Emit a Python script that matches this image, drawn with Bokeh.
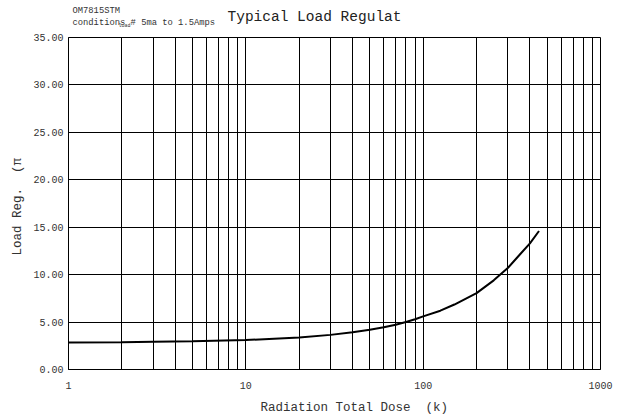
import math
from bokeh.plotting import figure
from bokeh.models import FixedTicker, PrintfTickFormatter, Label, ColumnDataSource
from bokeh.embed import file_html
from bokeh.resources import INLINE

# ---- data ----
dose = [1, 2, 3, 5, 10, 20, 30, 40, 50, 60, 70, 80, 90, 100, 125, 150, 200, 250, 300, 350, 400, 450]
load_reg = [2.85, 2.88, 2.92, 2.98, 3.1, 3.37, 3.65, 3.93, 4.2, 4.46, 4.72, 5.0, 5.3, 5.6, 6.2, 6.85, 8.05, 9.4, 10.7, 12.1, 13.3, 14.6]
x_major = [1, 10, 100, 1000]
x_major_labels = ["1", "10", "100", "1000"]
x_grid = [m * 10 ** k for k in range(3) for m in range(1, 10)] + [1000]
y_ticks = [0, 5, 10, 15, 20, 25, 30, 35]

title_text = "Typical Load Regulat"
part_text = "OM7815STM"
cond_text = "conditions # 5ma to 1.5Amps"
sub_text = "load"
x_label = "Radiation Total Dose \u00a0(k)"
y_label = "Load Reg. \u00a0(π"

FONT = "Liberation Mono"

p = figure(width=621, height=420, x_axis_type="log", x_range=(1, 1000), y_range=(0, 35),
           output_backend="svg", toolbar_location=None, title_location=None,
           min_border_left=68, min_border_right=21, min_border_top=37, min_border_bottom=51)
p.background_fill_color = "white"
p.border_fill_color = "white"
p.outline_line_color = "black"
p.outline_line_width = 1

src = ColumnDataSource(dict(x=dose, y=load_reg))
p.line("x", "y", source=src, line_color="black", line_width=2)

# axes
xa = p.xaxis[0]
xa.ticker = FixedTicker(ticks=x_major, minor_ticks=[])
xa.major_label_overrides = dict(zip(x_major, x_major_labels))
ya = p.yaxis[0]
ya.ticker = FixedTicker(ticks=y_ticks, minor_ticks=[])
ya.formatter = PrintfTickFormatter(format="%.2f")
for ax in (xa, ya):
    ax.major_tick_in = 0
    ax.major_tick_out = 0
    ax.minor_tick_in = 0
    ax.minor_tick_out = 0
    ax.axis_line_color = "black"
    ax.major_label_text_font = FONT
    ax.major_label_text_font_size = "10px"
    ax.major_label_text_color = "#333333"
xa.major_label_standoff = 12
ya.major_label_standoff = 5

# grid
p.xgrid.ticker = FixedTicker(ticks=x_grid)
p.ygrid.ticker = FixedTicker(ticks=y_ticks)
for g in (p.xgrid[0], p.ygrid[0]):
    g.grid_line_color = "black"
    g.grid_line_width = 1
    g.grid_line_alpha = 1.0

# texts (canvas pixel units, origin top-left), placed in side panels
def lab(x, y, text, size, side, **kw):
    p.add_layout(Label(x=x, y=y, x_units="canvas", y_units="canvas", text=text,
                       text_font=FONT, text_font_size=size, text_baseline="middle",
                       text_color=kw.pop("text_color", "#333333"), **kw), side)

lab(72, 10.5, part_text, "8.8px", "above")
lab(72, 22, cond_text, "8.8px", "above")
lab(314, 16.5, title_text, "14.5px", "above", text_align="center", text_color="#222222")
lab(118, 25, sub_text, "5px", "right")
lab(260, 407, x_label, "12.5px", "below", text_align="left")
lab(17, 255, y_label, "12.5px", "left", angle=math.pi / 2, text_align="left")

open("out.html", "w").write(file_html(p, INLINE))
